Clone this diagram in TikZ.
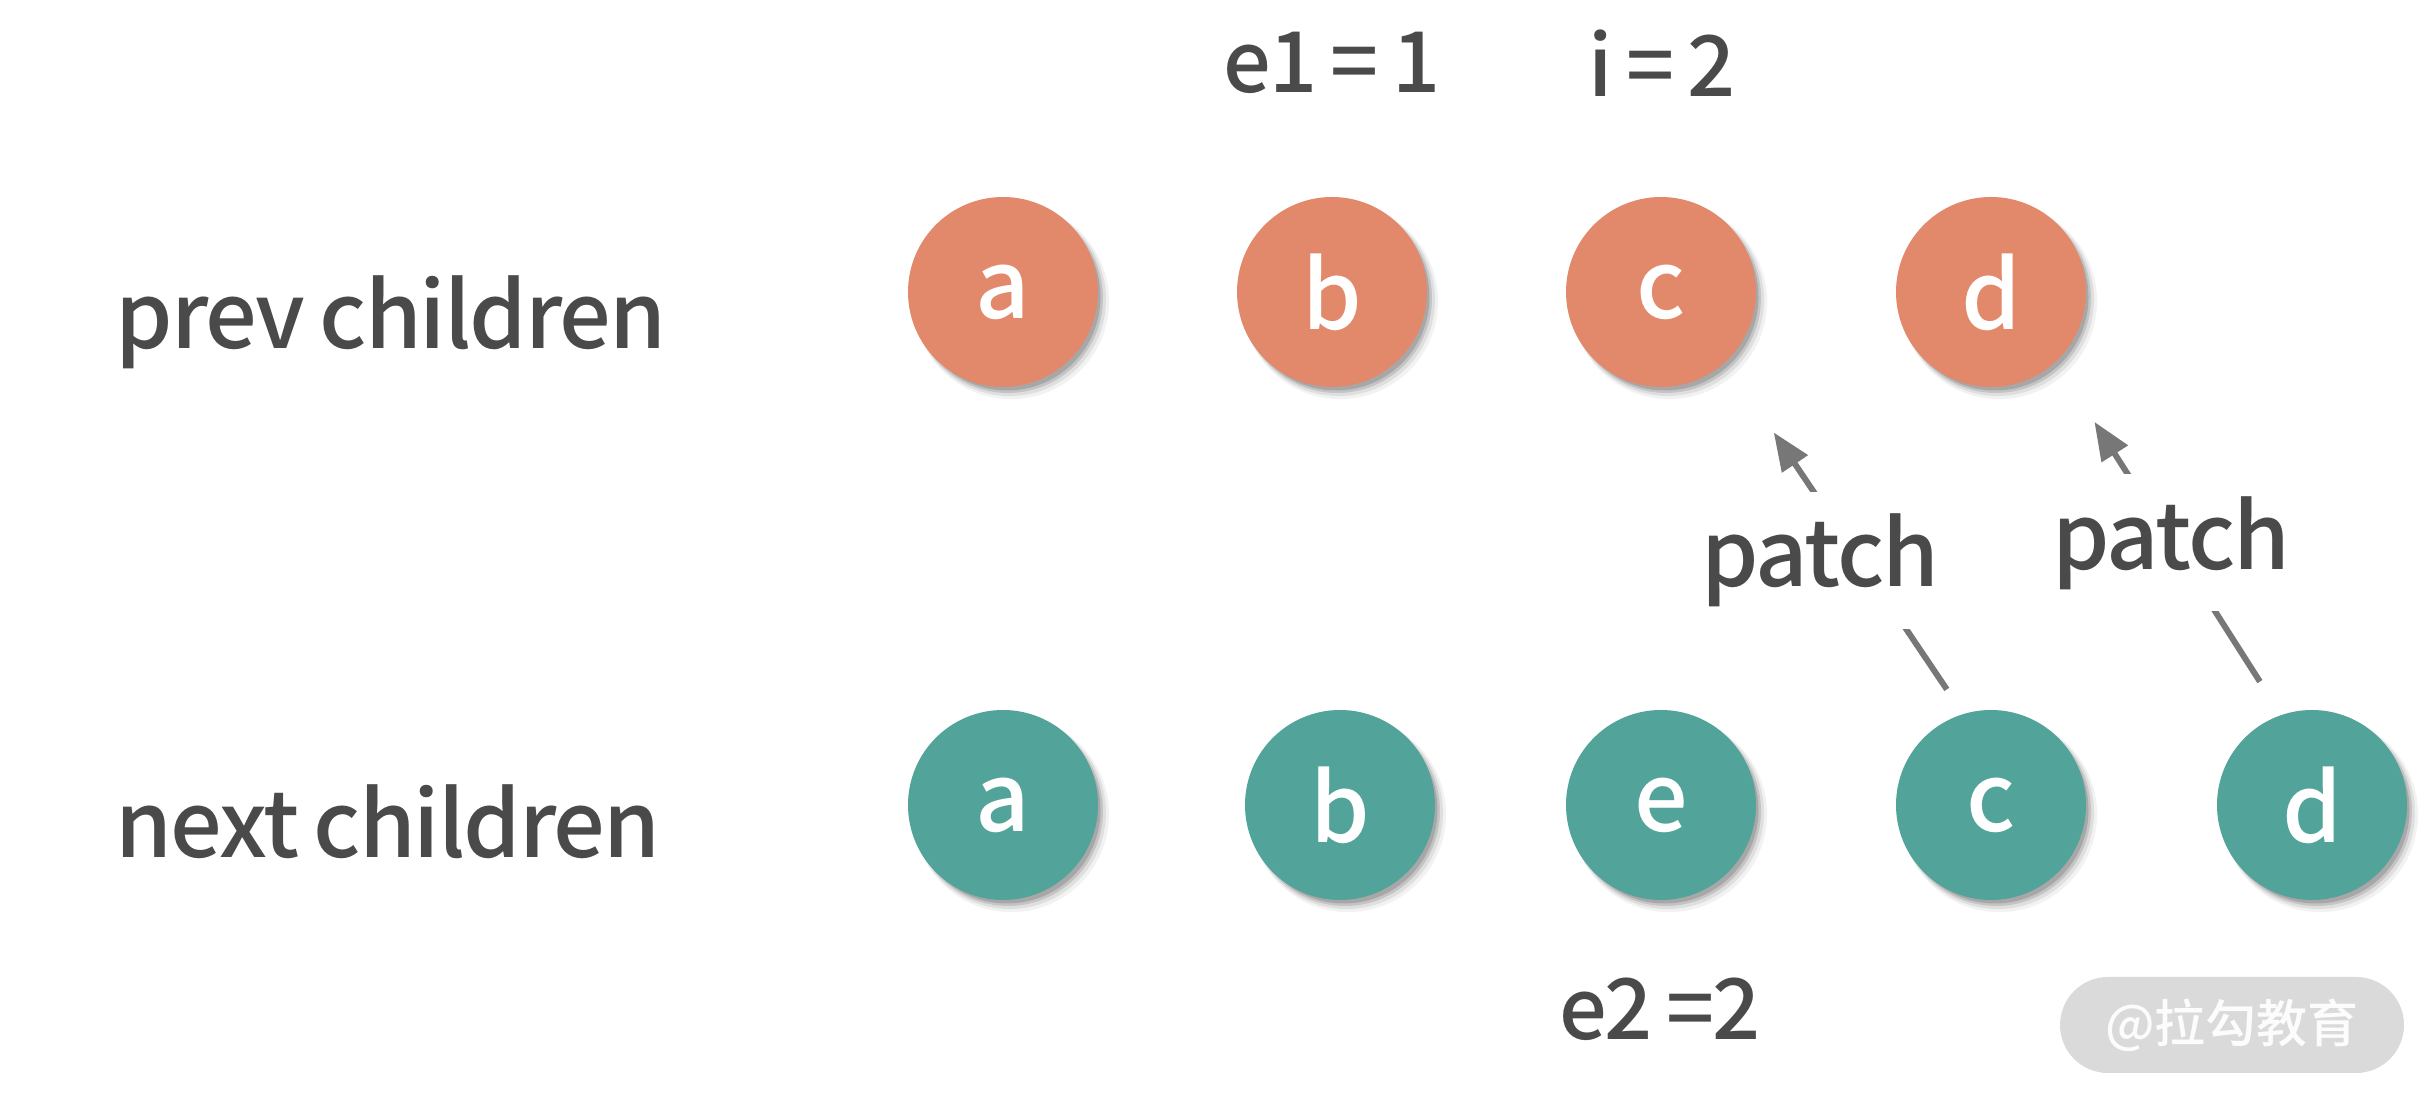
\documentclass[tikz,border=0pt]{standalone}
\usepackage{fontspec}
\setmainfont{Noto Sans CJK SC Medium}
\newfontfamily\lblfont{Noto Sans CJK SC Medium}[LetterSpace=-2.2, WordSpace=0.8]
\usetikzlibrary{shadows,arrows.meta}
\definecolor{prevcol}{HTML}{E2896C}
\definecolor{nextcol}{HTML}{52A39A}
\definecolor{textcol}{HTML}{4A4A4A}
\definecolor{arrowcol}{HTML}{777777}
\definecolor{markcol}{HTML}{DADADA}
\tikzset{
    softshadow/.style={
        general shadow={shadow xshift=0.08cm, shadow yshift=-0.09cm, shadow scale=1.03, fill=black, opacity=0.05},
        general shadow={shadow xshift=0.065cm, shadow yshift=-0.075cm, shadow scale=1.015, fill=black, opacity=0.08},
        general shadow={shadow xshift=0.05cm, shadow yshift=-0.06cm, shadow scale=1.0, fill=black, opacity=0.12},
        general shadow={shadow xshift=0.04cm, shadow yshift=-0.05cm, shadow scale=0.985, fill=black, opacity=0.15}},
    elem/.style={circle, minimum size=1.9cm, inner sep=0pt, text=white,
        font=\fontsize{27}{30}\selectfont, softshadow},
    prevelem/.style={elem, fill=prevcol},
    nextelem/.style={elem, fill=nextcol},
    txt/.style={text=textcol, font=\lblfont\fontsize{26}{30}\selectfont, inner sep=0pt},
    valtxt/.style={txt, font=\lblfont\fontsize{24}{28}\selectfont},
    patchline/.style={draw=arrowcol, line width=1.7pt, -{Triangle[length=0.38cm, width=0.3cm]}},
    patchtxt/.style={txt, fill=white, inner xsep=0.05cm, inner ysep=0.22cm}
}
\begin{document}
\begin{tikzpicture}
        \useasboundingbox (0, 0) rectangle (24.32, 10.94);

        \node[txt, anchor=base west] (prev) at (1.15, 7.45) {prev children};
        \node[txt, anchor=base west] (next) at (1.15, 2.36) {next children};

        \node[prevelem] (pa) at (10.03, 8.02) {a};
        \node[prevelem] (pb) at (13.32, 8.02) {b};
        \node[prevelem] (pc) at (16.61, 8.02) {c};
        \node[prevelem] (pd) at (19.91, 8.02) {d};

        \node[nextelem] (na) at (10.03, 2.89) {a};
        \node[nextelem] (nb) at (13.40, 2.89) {b};
        \node[nextelem] (ne) at (16.61, 2.89) {e};
        \node[nextelem] (nc) at (19.91, 2.89) {c};
        \node[nextelem] (nd) at (23.12, 2.89) {d};

        \node[valtxt, anchor=base] (e1) at (13.32, 10.01) {e1 = 1};
        \node[valtxt, anchor=base] (i) at (16.62, 9.97) {i = 2};
        \node[valtxt, anchor=base] (e2) at (16.60, 0.54) {e2 =2};

        \draw[patchline, shorten <=0.29cm, shorten >=0.85cm] (nc.107) -- node[patchtxt, pos=0.435, xshift=-0.4cm] (patchc) {patch} (pc.-47.5);
        \draw[patchline, shorten <=0.39cm, shorten >=0.71cm] (nd.109) -- node[patchtxt, pos=0.487] (patchd) {patch} (pd.-47.2);

        \node[fill=markcol, rounded corners=0.48cm, minimum width=3.44cm, minimum height=0.96cm,
            text=white!92!markcol, font=\fontsize{14.5}{16}\selectfont] (mark) at (22.32, 0.69) {@拉勾教育};

    \end{tikzpicture}
\end{document}
